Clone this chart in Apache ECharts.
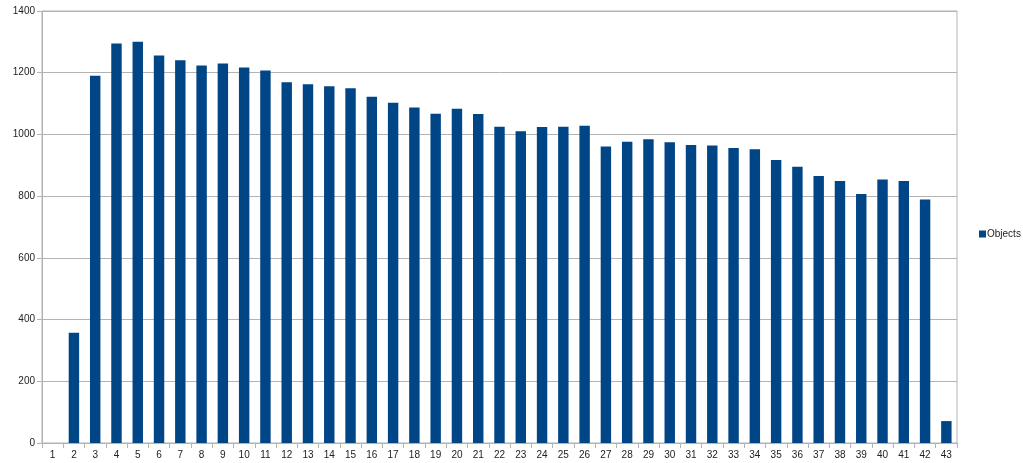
<!DOCTYPE html>
<html><head><meta charset="utf-8">
<script src="https://cdn.jsdelivr.net/npm/echarts@6/dist/echarts.min.js"></script>
<style>html,body{margin:0;padding:0;background:#fff}#c{width:1023px;height:463px}</style>
</head><body><div id="c"></div>
<script>
const categories = ['1','2','3','4','5','6','7','8','9','10','11','12','13','14','15','16','17','18','19','20','21','22','23','24','25','26','27','28','29','30','31','32','33','34','35','36','37','38','39','40','41','42','43'];
const objects = [null,357,1190,1295,1300,1256,1240,1223,1230,1217,1207,1169,1163,1156,1150,1122,1103,1087,1067,1083,1066,1025,1010,1024,1025,1028,961,976,984,975,966,964,956,952,917,895,865,849,807,854,849,789,71];
const seriesName = 'Objects';

const chart = echarts.init(document.getElementById('c'), null, {renderer:'canvas'});
chart.setOption({
  animation:false,
  textStyle:{fontFamily:'Liberation Sans, DejaVu Sans, sans-serif'},
  grid:{left:42,right:66,top:11,bottom:20,containLabel:false,show:true,borderColor:'#b3b3b3',borderWidth:1},
  legend:{orient:'vertical',left:974,top:224,itemWidth:7,itemHeight:7,itemGap:4,icon:'rect',
    textStyle:{fontSize:10,color:'#222',padding:[0,0,0,-4]},data:[seriesName]},
  xAxis:{type:'category',data:categories,
    axisLine:{lineStyle:{color:'#b3b3b3'}},
    axisTick:{show:true,length:5,lineStyle:{color:'#b3b3b3'}},
    axisLabel:{fontSize:10,color:'#222',margin:7,interval:0}},
  yAxis:{type:'value',min:0,max:1400,interval:200,
    axisLine:{show:true,lineStyle:{color:'#b3b3b3'}},
    axisTick:{show:true,length:5,lineStyle:{color:'#b3b3b3'}},
    axisLabel:{fontSize:10,color:'#222',margin:7,formatter:function(v){return String(v);}},
    splitLine:{lineStyle:{color:'#b3b3b3'}}},
  series:[{name:seriesName,type:'bar',data:objects,barWidth:'49%',
    itemStyle:{color:'#004586'}}]
});
</script></body></html>
